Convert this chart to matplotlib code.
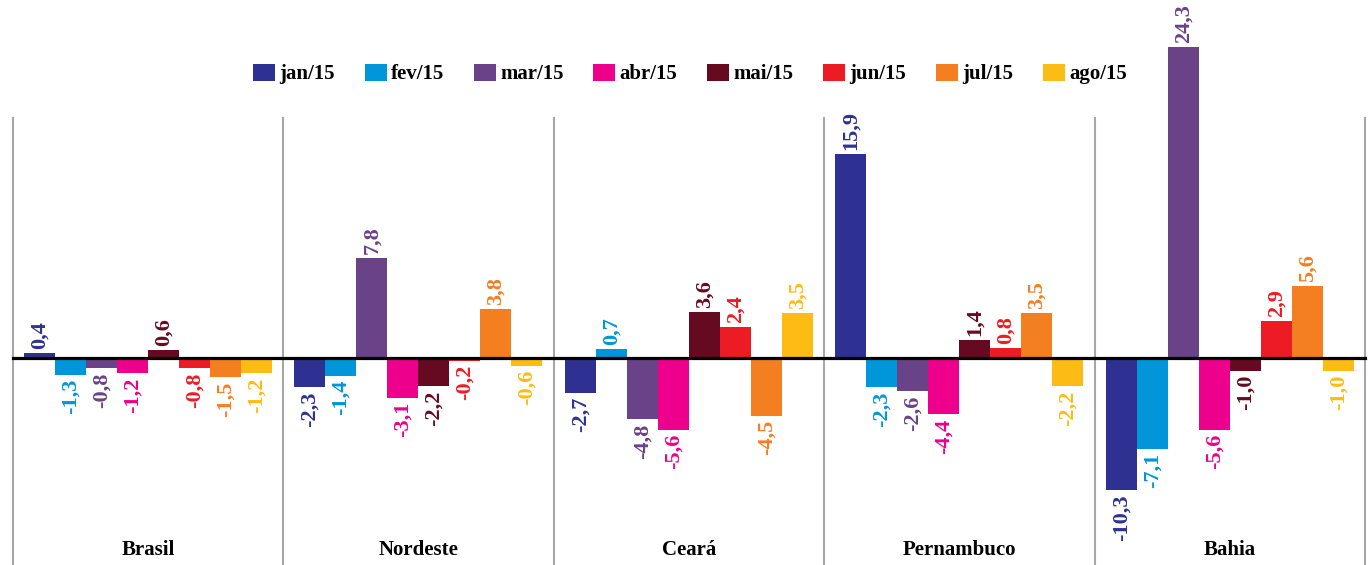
import matplotlib
matplotlib.use("Agg")
import matplotlib.pyplot as plt
import numpy as np

categories = ["Brasil", "Nordeste", "Ceará", "Pernambuco", "Bahia"]
series_names = ["jan/15", "fev/15", "mar/15", "abr/15", "mai/15", "jun/15", "jul/15", "ago/15"]
jan15 = [0.4, -2.3, -2.7, 15.9, -10.3]
fev15 = [-1.3, -1.4, 0.7, -2.3, -7.1]
mar15 = [-0.8, 7.8, -4.8, -2.6, 24.3]
abr15 = [-1.2, -3.1, -5.6, -4.4, -5.6]
mai15 = [0.6, -2.2, 3.6, 1.4, -1.0]
jun15 = [-0.8, -0.2, 2.4, 0.8, 2.9]
jul15 = [-1.5, 3.8, -4.5, 3.5, 5.6]
ago15 = [-1.2, -0.6, 3.5, -2.2, -1.0]
series = [jan15, fev15, mar15, abr15, mai15, jun15, jul15, ago15]
colors = ["#2E3192", "#0096D9", "#6A4287", "#EC008C", "#660A22", "#ED1C24", "#F47F21", "#FDBC14"]

plt.rcParams['font.family'] = ['Liberation Serif', 'DejaVu Serif']
plt.rcParams['font.weight'] = 'bold'

fig = plt.figure(figsize=(13.7, 5.65), dpi=100)
ax = fig.add_axes([0, 0, 1, 1])
ax.set_xlim(-0.547, 4.518)
ax.set_ylim(-16.17, 27.97)
ax.axis('off')

x = np.arange(len(categories))
w = 31 / 270.5
n = len(series)
handles = []
for i, (vals, c, name) in enumerate(zip(series, colors, series_names)):
    pos = x + (i - (n - 1) / 2) * w
    b = ax.bar(pos, vals, width=w, color=c, label=name, zorder=2)
    handles.append(b)
    for xp, v in zip(pos, vals):
        txt = f"{v:.1f}".replace(".", ",")
        if v >= 0:
            ax.annotate(txt, (xp, v), xytext=(0, 3), textcoords='offset points',
                        rotation=90, ha='center', va='bottom', color=c,
                        fontsize=16, fontweight='bold')
        else:
            ax.annotate(txt, (xp, v), xytext=(0, -3), textcoords='offset points',
                        rotation=90, ha='center', va='top', color=c,
                        fontsize=16, fontweight='bold')

# separators
for s in np.arange(len(categories) + 1) - 0.5:
    ax.plot([s, s], [18.75, -16.17], color="#A6A6A6", lw=1.5, zorder=1)

# zero line
ax.plot([-0.5, len(categories) - 0.5], [0, 0], color="black", lw=2.3, zorder=3)

for xi, cat in zip(x, categories):
    ax.text(xi, -15.0, cat, ha='center', va='center', fontsize=15, fontweight='bold')

fig.legend(handles=handles, labels=series_names, loc='center', ncol=8,
           bbox_to_anchor=(690 / 1370, 1 - 74 / 565), frameon=False,
           handlelength=1.05, handleheight=0.87, handletextpad=0.2,
           columnspacing=1.44, prop={'weight': 'bold', 'size': 15})

fig.savefig("out.png", dpi=100)
